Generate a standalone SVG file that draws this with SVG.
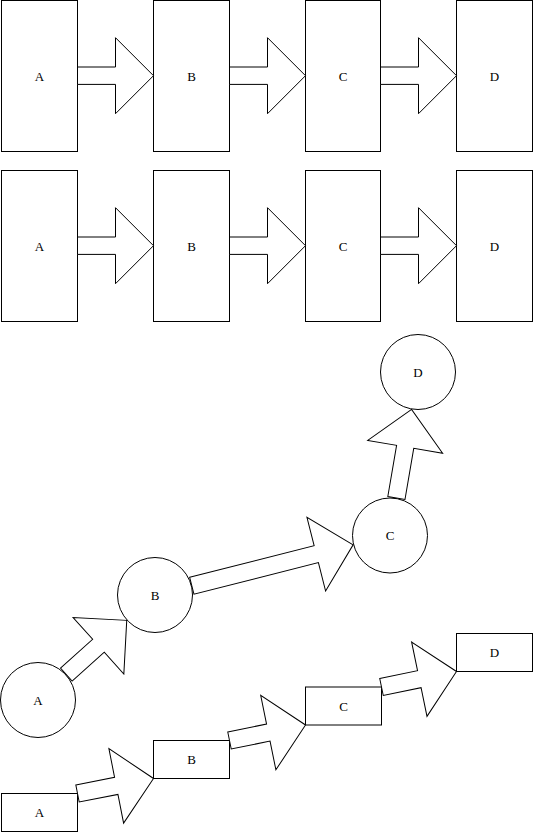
<svg xmlns="http://www.w3.org/2000/svg" width="533" height="832" viewBox="0 0 533 832">
<style>
.n{fill:#fff;stroke:#000;stroke-width:1}
.a{fill:#fff;stroke:#000;stroke-width:1;stroke-linejoin:miter}
text{font-family:"Liberation Serif","DejaVu Serif",serif;font-size:13px;text-anchor:middle;dominant-baseline:central;fill:#000}
</style>
<rect width="533" height="832" fill="#fff"/>
<g id="r1A"><rect class="n" x="1.5" y="0.5" width="76" height="151"/><text x="39.5" y="76">A</text></g>
<g id="r1B"><rect class="n" x="153.5" y="0.5" width="76" height="151"/><text x="191.5" y="76">B</text></g>
<g id="r1C"><rect class="n" x="305.5" y="0.5" width="75" height="151"/><text x="343" y="76">C</text></g>
<g id="r1D"><rect class="n" x="456.5" y="0.5" width="76" height="151"/><text x="494.5" y="76">D</text></g>
<g id="r2A"><rect class="n" x="1.5" y="170.5" width="76" height="151"/><text x="39.5" y="246">A</text></g>
<g id="r2B"><rect class="n" x="153.5" y="170.5" width="76" height="151"/><text x="191.5" y="246">B</text></g>
<g id="r2C"><rect class="n" x="305.5" y="170.5" width="75" height="151"/><text x="343" y="246">C</text></g>
<g id="r2D"><rect class="n" x="456.5" y="170.5" width="76" height="151"/><text x="494.5" y="246">D</text></g>
<g id="cA"><circle class="n" cx="38" cy="700" r="37.5"/><text x="38" y="700">A</text></g>
<g id="cB"><circle class="n" cx="155" cy="595" r="37.5"/><text x="155" y="595">B</text></g>
<g id="cC"><circle class="n" cx="390" cy="535.5" r="37.5"/><text x="390" y="535.5">C</text></g>
<g id="cD"><circle class="n" cx="418" cy="372" r="37.5"/><text x="418" y="372">D</text></g>
<g id="bA"><rect class="n" x="1.5" y="793.5" width="76" height="38"/><text x="39.5" y="812.5">A</text></g>
<g id="bB"><rect class="n" x="153.5" y="740.5" width="76" height="38"/><text x="191.5" y="759.5">B</text></g>
<g id="bC"><rect class="n" x="305.5" y="687" width="76" height="38"/><text x="343.5" y="706">C</text></g>
<g id="bD"><rect class="n" x="456.5" y="633.5" width="76" height="38"/><text x="494.5" y="652.5">D</text></g>
<g id="connectors">
<path class="a" transform="translate(77.5,75.7)" d="M0,-8.7 H38 V-38 L76,0 L38,38 V8.7 H0 Z"/>
<path class="a" transform="translate(229.5,75.7)" d="M0,-8.7 H38 V-38 L76,0 L38,38 V8.7 H0 Z"/>
<path class="a" transform="translate(380.5,75.7)" d="M0,-8.7 H38 V-38 L76,0 L38,38 V8.7 H0 Z"/>
<path class="a" transform="translate(77.5,245.7)" d="M0,-8.7 H38 V-38 L76,0 L38,38 V8.7 H0 Z"/>
<path class="a" transform="translate(229.5,245.7)" d="M0,-8.7 H38 V-38 L76,0 L38,38 V8.7 H0 Z"/>
<path class="a" transform="translate(380.5,245.7)" d="M0,-8.7 H38 V-38 L76,0 L38,38 V8.7 H0 Z"/>
<path class="a" transform="translate(66.3,674.6) rotate(-41.9)" d="M0,-8.7 H43.2 V-38 L81.2,0 L43.2,38 V8.7 H0 Z"/>
<path class="a" transform="translate(191.8,585.7) rotate(-14.21)" d="M0,-8.7 H128.4 V-38 L166.4,0 L128.4,38 V8.7 H0 Z"/>
<path class="a" transform="translate(396.4,498) rotate(-80.28)" d="M0,-8.7 H51.9 V-38 L89.9,0 L51.9,38 V8.7 H0 Z"/>
<path class="a" transform="translate(77.5,793.5) rotate(-11.16)" d="M0,-8.7 H39.5 V-38 L77.5,0 L39.5,38 V8.7 H0 Z"/>
<path class="a" transform="translate(229.5,740.5) rotate(-11.53)" d="M0,-8.7 H39.6 V-38 L77.6,0 L39.6,38 V8.7 H0 Z"/>
<path class="a" transform="translate(381.5,687) rotate(-11.68)" d="M0,-8.7 H38.6 V-38 L76.6,0 L38.6,38 V8.7 H0 Z"/>
</g>
</svg>
